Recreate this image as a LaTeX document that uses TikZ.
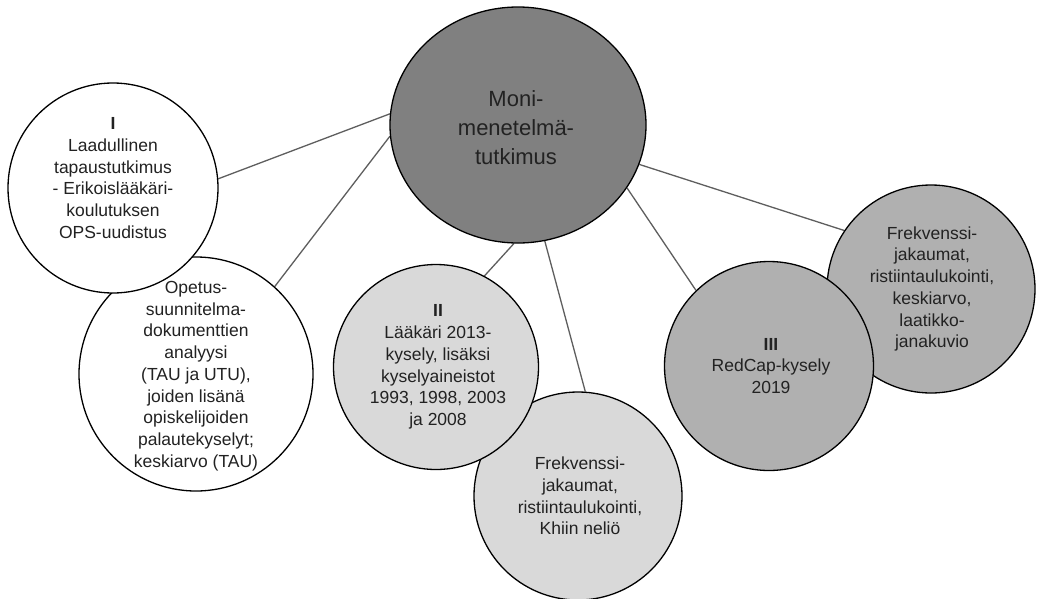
\documentclass[tikz,border=0pt]{standalone}
\usepackage{fontspec}
\setmainfont{Liberation Sans}
\usetikzlibrary{shapes.geometric,backgrounds}

\definecolor{ink}{HTML}{222222}
\definecolor{hubfill}{HTML}{808080}
\definecolor{midfill}{HTML}{B0B0B0}
\definecolor{lightfill}{HTML}{D9D9D9}
\definecolor{linkgray}{HTML}{5E5E5E}

\begin{document}
\begin{tikzpicture}[x=1pt,y=-1pt,
  bubble/.style={circle,draw=black,line width=1.3pt,inner sep=0pt,minimum size=#1},
  caption/.style={align=center,text=ink,font=\fontsize{17.5}{21.7}\selectfont},
  link/.style={draw=linkgray,line width=1.3pt}]

\useasboundingbox (0,0) rectangle (1037,598);

% central method node
\node[ellipse,draw=black,line width=1.3pt,fill=hubfill,inner sep=0pt,
      minimum width=256pt,minimum height=236pt] (hub) at (518,125) {};

% study I and its document analysis
\node[bubble=234pt,fill=white] (docs) at (196,374) {};
\node[bubble=210pt,fill=white] (case) at (113,188) {};

% study II and its statistics
\node[bubble=208pt,fill=lightfill] (stats2) at (578,496) {};
\node[bubble=205pt,fill=lightfill] (survey2) at (436,367) {};

% study III and its statistics
\node[bubble=208pt,fill=midfill] (stats3) at (931,289) {};
\node[bubble=209pt,fill=midfill] (survey3) at (769,366) {};

% texts
\node[align=center,text=ink,font=\fontsize{22}{29}\selectfont] (hubtext) at (516,128)
  {Moni-\\menetelmä-\\tutkimus};
\node[caption] (casetext) at (113,178)
  {\textbf{I}\\Laadullinen\\tapaustutkimus\\- Erikoislääkäri-\\koulutuksen\\OPS-uudistus};
\node[caption] (docstext) at (196,376)
  {Opetus-\\suunnitelma-\\dokumenttien\\analyysi\\(TAU ja UTU),\\joiden lisänä\\opiskelijoiden\\palautekyselyt;\\keskiarvo (TAU)};
\node[caption] (survey2text) at (438,367)
  {\textbf{II}\\Lääkäri 2013-\\kysely, lisäksi\\kyselyaineistot\\1993, 1998, 2003\\ja 2008};
\node[caption] (stats2text) at (580,496)
  {Frekvenssi-\\jakaumat,\\ristiintaulukointi,\\Khiin neliö};
\node[caption] (survey3text) at (771,366)
  {\textbf{III}\\RedCap-kysely\\2019};
\node[caption] (stats3text) at (932,289)
  {Frekvenssi-\\jakaumat,\\ristiintaulukointi,\\keskiarvo,\\laatikko-\\janakuvio};

% connectors run beneath the bubbles
\begin{pgfonlayer}{background}
  \fill[white] (0,0) rectangle (1037,598);
  \draw[link] (case.5) -- (hub.175);
  \draw[link] (docs.48) -- (hub.185);
  \draw[link] (survey2.62) -- (hub.268);
  \draw[link] (stats2.86) -- (hub.283);
  \draw[link] (survey3.134) -- (hub.330);
  \draw[link] (stats3.146) -- (hub.342);
\end{pgfonlayer}
\end{tikzpicture}
\end{document}
